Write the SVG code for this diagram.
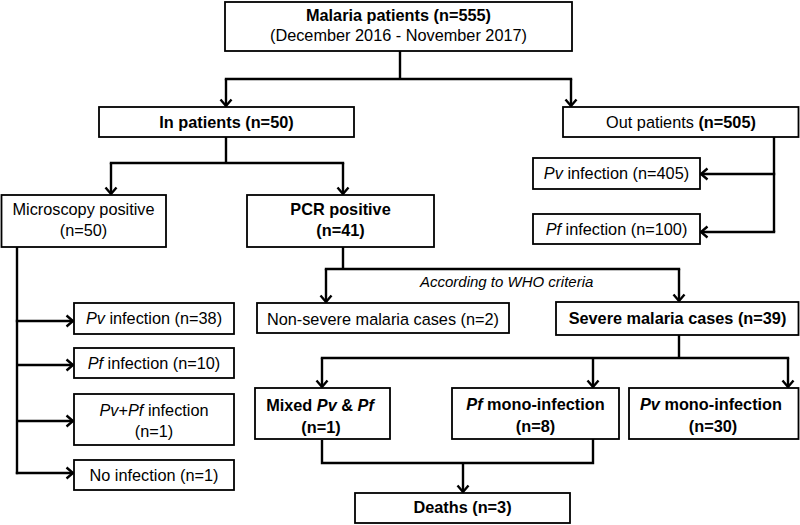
<svg xmlns="http://www.w3.org/2000/svg" width="800" height="525" viewBox="0 0 800 525">
<defs>
<style>
.box{fill:#fff;stroke:#000;stroke-width:1.8}
.t{font-family:"Liberation Sans",Arial,sans-serif;font-size:16.3px;fill:#000;text-anchor:middle}
.b{font-weight:bold}
.i{font-style:italic}
.c{fill:none;stroke:#000;stroke-width:2.4}
.a{marker-end:url(#arr)}
</style>
<marker id="arr" markerUnits="userSpaceOnUse" markerWidth="14" markerHeight="14" refX="8" refY="7" orient="auto">
<path d="M1.5,1.5 L8,7 L1.5,12.5" fill="none" stroke="#000" stroke-width="2.4"/>
</marker>
</defs>
<rect width="800" height="525" fill="#fff"/>
<g id="connectors">
<path class="c" d="M400,51 V79 M224.8,79 H572.2"/>
<path class="c a" d="M226,79 V106"/>
<path class="c a" d="M571,79 V106"/>
<path class="c" d="M226,137 V163 M109.8,163 H344.2"/>
<path class="c a" d="M111,163 V194"/>
<path class="c a" d="M343,163 V194"/>
<path class="c" d="M774,137 V232"/>
<path class="c a" d="M775.2,174 H701"/>
<path class="c a" d="M775.2,232 H701"/>
<path class="c" d="M17,247 V474.2"/>
<path class="c a" d="M15.8,321 H73"/>
<path class="c a" d="M17,365 H73"/>
<path class="c a" d="M17,421 H73"/>
<path class="c a" d="M15.8,473 H73"/>
<path class="c" d="M343,247 V269 M324.8,269 H680.2"/>
<path class="c a" d="M326,269 V302"/>
<path class="c a" d="M679,269 V301"/>
<path class="c" d="M679,335 V358 M320.8,358 H789.2"/>
<path class="c a" d="M322,358 V387"/>
<path class="c a" d="M593,358 V387"/>
<path class="c a" d="M788,358 V387"/>
<path class="c" d="M322,440 V463 H593 V439"/>
<path class="c a" d="M463,463 V492"/>
<text class="t i" x="420" y="287" style="text-anchor:start;font-size:15px">According to WHO criteria</text>
</g>
<g id="n-total">
<rect class="box" x="225" y="2" width="347" height="49"/>
<text class="t b" x="398.5" y="21">Malaria patients (n=555)</text>
<text class="t" x="398.5" y="41">(December 2016 - November 2017)</text>
</g>
<g id="n-in">
<rect class="box" x="99" y="107" width="255" height="30"/>
<text class="t b" x="226.5" y="128">In patients (n=50)</text>
</g>
<g id="n-out">
<rect class="box" x="563" y="107" width="235.5" height="30"/>
<text class="t" x="681" y="128">Out patients <tspan class="b">(n=505)</tspan></text>
</g>
<g id="n-out-pv">
<rect class="box" x="533" y="158" width="167" height="31"/>
<text class="t" x="616.5" y="179"><tspan class="i">Pv</tspan> infection (n=405)</text>
</g>
<g id="n-out-pf">
<rect class="box" x="533" y="214" width="167" height="30"/>
<text class="t" x="616.5" y="235"><tspan class="i">Pf</tspan> infection (n=100)</text>
</g>
<g id="n-micro">
<rect class="box" x="1.5" y="195" width="164.5" height="52"/>
<text class="t" x="83.5" y="215">Microscopy positive</text>
<text class="t" x="83.5" y="236">(n=50)</text>
</g>
<g id="n-pcr">
<rect class="box" x="247" y="195" width="187" height="52"/>
<text class="t b" x="340.5" y="215">PCR positive</text>
<text class="t b" x="340.5" y="236">(n=41)</text>
</g>
<g id="n-m-pv">
<rect class="box" x="74" y="303" width="160" height="31"/>
<text class="t" x="154" y="324"><tspan class="i">Pv</tspan> infection (n=38)</text>
</g>
<g id="n-m-pf">
<rect class="box" x="74" y="348" width="160" height="30"/>
<text class="t" x="154" y="369"><tspan class="i">Pf</tspan> infection (n=10)</text>
</g>
<g id="n-m-mix">
<rect class="box" x="74" y="394" width="160" height="51"/>
<text class="t" x="154" y="416"><tspan class="i">Pv</tspan>+<tspan class="i">Pf</tspan> infection</text>
<text class="t" x="154" y="437">(n=1)</text>
</g>
<g id="n-m-none">
<rect class="box" x="74" y="460" width="160" height="30"/>
<text class="t" x="154" y="481">No infection (n=1)</text>
</g>
<g id="n-nonsevere">
<rect class="box" x="257" y="303" width="252" height="30"/>
<text class="t" x="383" y="325">Non-severe malaria cases (n=2)</text>
</g>
<g id="n-severe">
<rect class="box" x="556" y="302" width="242.5" height="33"/>
<text class="t b" x="677.5" y="324">Severe malaria cases (n=39)</text>
</g>
<g id="n-mixed">
<rect class="box" x="255" y="388" width="135" height="51"/>
<text class="t b" x="320" y="411">Mixed <tspan class="i">Pv</tspan> &amp; <tspan class="i">Pf</tspan></text>
<text class="t b" x="321" y="433">(n=1)</text>
</g>
<g id="n-pfmono">
<rect class="box" x="452" y="388" width="167" height="51"/>
<text class="t b" x="535.5" y="410"><tspan class="i">Pf</tspan> mono-infection</text>
<text class="t b" x="535.5" y="432">(n=8)</text>
</g>
<g id="n-pvmono">
<rect class="box" x="629" y="388" width="169.5" height="51"/>
<text class="t b" x="711" y="410"><tspan class="i">Pv</tspan> mono-infection</text>
<text class="t b" x="713" y="432">(n=30)</text>
</g>
<g id="n-deaths">
<rect class="box" x="355" y="493" width="215" height="30"/>
<text class="t b" x="462.5" y="513">Deaths (n=3)</text>
</g>
</svg>
